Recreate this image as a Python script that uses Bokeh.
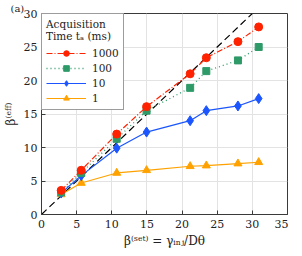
from bokeh.plotting import figure
from bokeh.models import Legend, LegendItem, FixedTicker, Range1d
from bokeh.embed import file_html
from bokeh.resources import INLINE

beta_set = [2.8, 5.65, 10.7, 14.95, 21.15, 23.45, 27.95, 30.9]
t1000 = [3.6, 6.6, 12.0, 16.1, 21.0, 23.4, 25.8, 28.0]
t100 = [3.3, 6.2, 11.3, 15.5, 18.9, 21.4, 23.0, 25.0]
t10 = [3.2, 5.8, 9.9, 12.3, 14.0, 15.5, 16.2, 17.3]
t1 = [3.0, 4.7, 6.2, 6.6, 7.2, 7.3, 7.6, 7.8]
ident_x = [0, 35]
ident_y = [0, 35]
x_ticks = [0, 5, 10, 15, 20, 25, 30, 35]
y_ticks = [0, 5, 10, 15, 20, 25, 30]

FONT = "DejaVu Serif"

p = figure(width=288, height=250, output_backend="svg", toolbar_location=None,
           x_range=Range1d(0, 35), y_range=Range1d(0, 30),
           min_border_left=31, min_border_right=1, min_border_top=0, min_border_bottom=35)

p.title.text = "(a)"
p.title.align = "left"
p.title.offset = -31
p.title.standoff = 0
p.title.text_font = FONT
p.title.text_font_size = "10px"
p.title.text_font_style = "normal"
p.title.text_color = "#222222"

p.outline_line_color = "#3a3a3a"
p.outline_line_width = 1
p.background_fill_color = "white"
p.border_fill_color = "white"

for ax in (p.xaxis[0], p.yaxis[0]):
    ax.major_label_text_font = FONT
    ax.major_label_text_font_size = "11px"
    ax.major_label_text_color = "#222222"
    ax.axis_label_text_font = FONT
    ax.axis_label_text_font_size = "12px"
    ax.axis_label_text_font_style = "normal"
    ax.axis_label_text_color = "#222222"
    ax.major_tick_in = 4
    ax.major_tick_out = 0
    ax.minor_tick_line_color = None
    ax.axis_line_color = "#3a3a3a"
    ax.major_tick_line_color = "#3a3a3a"
    ax.axis_label_standoff = 3
    ax.major_label_standoff = 5

p.xaxis[0].ticker = FixedTicker(ticks=x_ticks)
p.yaxis[0].ticker = FixedTicker(ticks=y_ticks)
p.yaxis[0].major_label_standoff = 4
p.xaxis[0].axis_label = "β⁽ˢᵉᵗ⁾ = γᵢₙⱼ/Dθ"
p.yaxis[0].axis_label = "β⁽ᵉᶠᶠ⁾"

p.xgrid.grid_line_color = "#e3e3e3"
p.ygrid.grid_line_color = "#e3e3e3"
p.xgrid.ticker = FixedTicker(ticks=x_ticks)
p.ygrid.ticker = FixedTicker(ticks=y_ticks)

p.line(ident_x, ident_y, line_color="black", line_dash="7 4", line_width=1.2)

red = "#ff2200"
green = "#2e9a68"
blue = "#1a55ff"
orange = "#ffa200"

l1 = p.line(beta_set, t1, line_color=orange, line_width=1.2)
m1 = p.scatter(beta_set, t1, marker="triangle", size=8, fill_color=orange, line_color=orange)
l10 = p.line(beta_set, t10, line_color=blue, line_width=1.2)
m10 = p.scatter(beta_set, t10, marker="diamond", size=10, fill_color=blue, line_color=blue)
l100 = p.line(beta_set, t100, line_color=green, line_width=1.3, line_dash="1 3")
m100 = p.scatter(beta_set, t100, marker="square", size=7, fill_color=green, line_color=green)
l1000 = p.line(beta_set, t1000, line_color=red, line_width=1.2, line_dash="6 2 1 2")
m1000 = p.scatter(beta_set, t1000, marker="circle", size=8, fill_color=red, line_color=red)

legend = Legend(items=[
    LegendItem(label="1000", renderers=[l1000, m1000]),
    LegendItem(label="100", renderers=[l100, m100]),
    LegendItem(label="10", renderers=[l10, m10]),
    LegendItem(label="1", renderers=[l1, m1]),
], location="top_left")
legend.title = "Acquisition\nTime tₐ (ms)"
legend.title_text_font = FONT
legend.title_text_font_size = "10.5px"
legend.title_text_font_style = "normal"
legend.title_text_color = "#222222"
legend.title_standoff = 4
legend.label_text_font = FONT
legend.label_text_font_size = "10.5px"
legend.label_text_color = "#222222"
legend.glyph_width = 40
legend.glyph_height = 14
legend.label_height = 14
legend.spacing = 1
legend.padding = 4
legend.margin = 0
legend.border_line_color = "#3a3a3a"
legend.border_line_width = 1
legend.background_fill_alpha = 1.0
legend.label_standoff = 6
p.add_layout(legend, "center")

open("out.html", "w").write(file_html(p, INLINE))
